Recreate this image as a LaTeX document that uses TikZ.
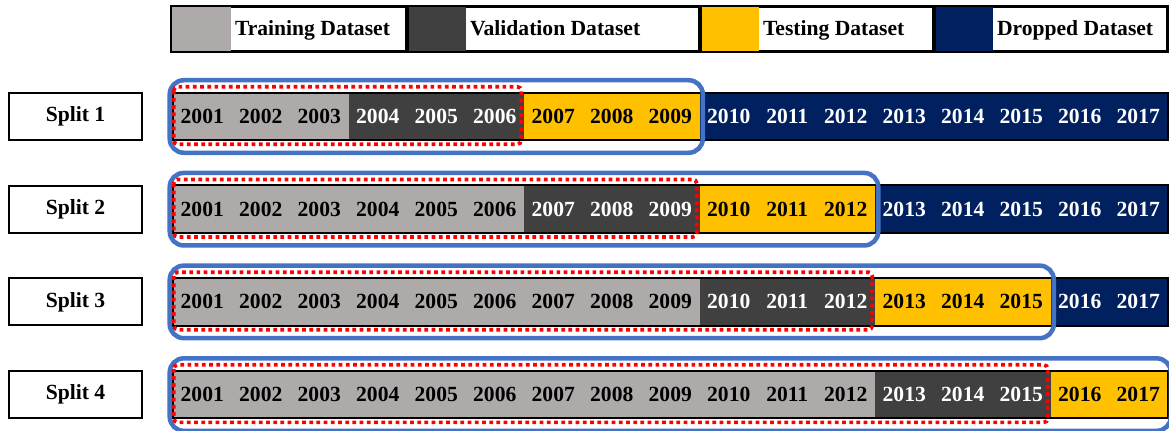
\documentclass[tikz,border=0pt]{standalone}
\usepackage{fontspec}
\setmainfont{Liberation Serif}
\usetikzlibrary{calc}
\definecolor{trainC}{HTML}{AEAAAA}
\definecolor{valC}{HTML}{404040}
\definecolor{testC}{HTML}{FFC000}
\definecolor{dropC}{HTML}{002060}
\definecolor{outerC}{HTML}{4472C4}
\definecolor{innerC}{HTML}{FF0000}
\begin{document}
\begin{tikzpicture}[x=0.75pt,y=-0.75pt,
  lbl/.style={font=\bfseries\fontsize{16.2}{18}\selectfont},
  cell/.style={lbl, rectangle, inner sep=0pt, minimum width=43.875pt, minimum height=35.25pt},
  train/.style={cell, fill=trainC, text=black},
  val/.style={cell, fill=valC, text=white},
  test/.style={cell, fill=testC, text=black},
  drop/.style={cell, fill=dropC, text=white},
  splitbox/.style={lbl, draw=black, line width=1.5pt, rectangle, inner sep=0pt, minimum width=99.75pt, minimum height=35.25pt},
  legbox/.style={draw=black, line width=1.2pt, rectangle, inner sep=0pt, minimum height=33pt},
  swatch/.style={rectangle, inner sep=0pt, minimum width=44.25pt, minimum height=33pt, anchor=west},
  legtext/.style={lbl, anchor=west, inner sep=0pt, text height=10pt, text depth=3pt},
  barframe/.style={draw=black, line width=1.5pt},
  outerwin/.style={draw=outerC, line width=3.4pt, rounded corners=10.5pt},
  innerwin/.style={draw=innerC, line width=2.8pt, dash pattern=on 2.8pt off 2.6pt, rounded corners=3pt}
]
\useasboundingbox (0,0) rectangle (1169,431);
\clip (0,0) rectangle (1169,431);

% legend
\node[legbox, minimum width=176.25pt] (lg1) at (289.5,29) {};
\node[legbox, minimum width=219.75pt] (lg2) at (553.5,29) {};
\node[legbox, minimum width=175.5pt]  (lg3) at (817,29) {};
\node[legbox, minimum width=174.75pt] (lg4) at (1050.5,29) {};
\node[swatch, fill=trainC] (sw1) at ($(lg1.west)+(1,0)$) {};
\node[swatch, fill=valC]   (sw2) at ($(lg2.west)+(1,0)$) {};
\node[swatch, fill=testC]  (sw3) at ($(lg3.west)+(1,0)$) {};
\node[swatch, fill=dropC]  (sw4) at ($(lg4.west)+(1,0)$) {};
\node[legtext] (lt1) at ($(sw1.east)+(3,2)$) {Training Dataset};
\node[legtext] (lt2) at ($(sw2.east)+(3,2)$) {Validation Dataset};
\node[legtext] (lt3) at ($(sw3.east)+(3,2)$) {Testing Dataset};
\node[legtext] (lt4) at ($(sw4.east)+(3,2)$) {Dropped Dataset};
\foreach \i in {1,...,4} {\draw[black, line width=1.2pt] (lg\i.north west) rectangle (lg\i.south east);}

% splits: row / training years / validation years / testing years
\foreach \r/\g/\d/\t in {1/3/3/3, 2/6/3/3, 3/9/3/3, 4/12/3/2} {
  \pgfmathsetmacro\yc{116.5+92.7*(\r-1)}
  \pgfmathtruncatemacro\b{\g+\d}
  \pgfmathtruncatemacro\c{\g+\d+\t}
  \node[splitbox] (s\r) at (75.5,\yc) {Split \r};
  \foreach \k in {1,...,17} {
    \pgfmathtruncatemacro\yr{2000+\k}
    \pgfmathsetmacro\xc{173+58.5*(\k-0.5)}
    \ifnum\k>\c \def\kind{drop}\else\ifnum\k>\b \def\kind{test}\else\ifnum\k>\g \def\kind{val}\else\def\kind{train}\fi\fi\fi
    \node[\kind] (c\r-\k) at (\xc,\yc) {\yr};
  }
  \draw[barframe] (c\r-1.north west) rectangle (c\r-17.south east);
  \draw[outerwin] ($(c\r-1.north west)+(-3,-12.5)$) rectangle ($(c\r-\c.south east)+(3,12.5)$);
  \draw[innerwin] ($(c\r-1.north west)+(1,-6)$) rectangle ($(c\r-\b.south east)+(-3,4)$);
}
\end{tikzpicture}
\end{document}
